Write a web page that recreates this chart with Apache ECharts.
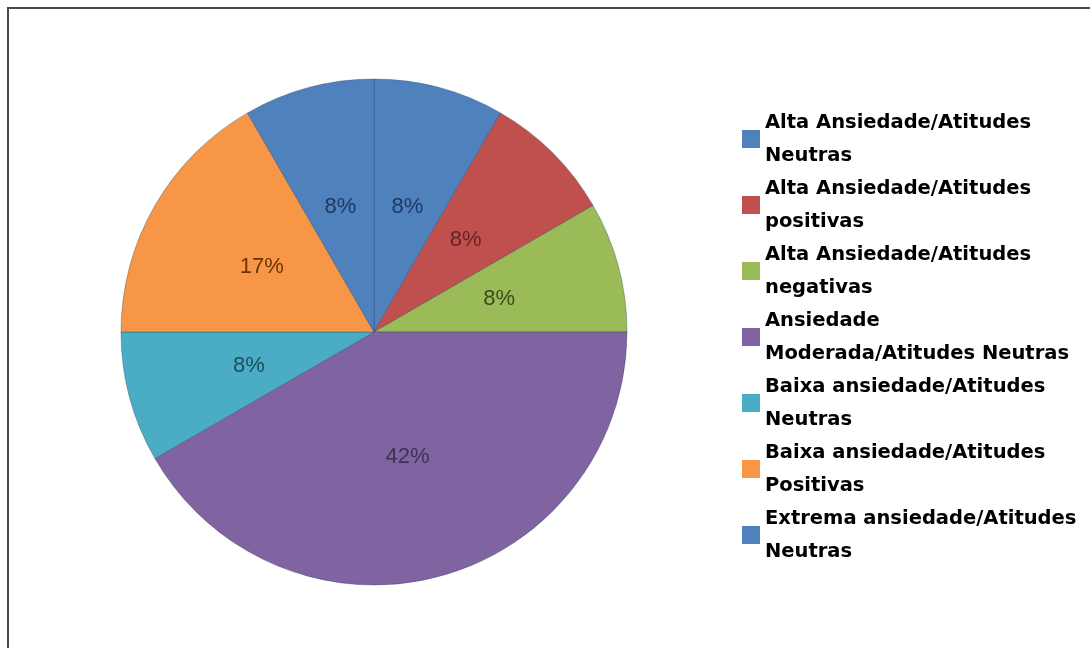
<!DOCTYPE html>
<html>
<head>
<meta charset="utf-8">
<script src="https://cdn.jsdelivr.net/npm/echarts@6/dist/echarts.min.js"></script>
<style>
html, body { margin: 0; padding: 0; background: #fff; }
#grafico { width: 1090px; height: 648px; }
</style>
</head>
<body>
<div id="grafico"></div>
<script>
// categorias e valores (contagens, 12 no total)
var categorias = [
    'Alta Ansiedade/Atitudes Neutras',
    'Alta Ansiedade/Atitudes positivas',
    'Alta Ansiedade/Atitudes negativas',
    'Ansiedade Moderada/Atitudes Neutras',
    'Baixa ansiedade/Atitudes Neutras',
    'Baixa ansiedade/Atitudes Positivas',
    'Extrema ansiedade/Atitudes Neutras'
];
var valores = [1, 1, 1, 5, 1, 2, 1];
var legendas = [
    'Alta Ansiedade/Atitudes\nNeutras',
    'Alta Ansiedade/Atitudes\npositivas',
    'Alta Ansiedade/Atitudes\nnegativas',
    'Ansiedade\nModerada/Atitudes Neutras',
    'Baixa ansiedade/Atitudes\nNeutras',
    'Baixa ansiedade/Atitudes\nPositivas',
    'Extrema ansiedade/Atitudes\nNeutras'
];

var cores = ['#4F81BD', '#C0504D', '#9BBB59', '#8064A2', '#4BACC6', '#F79646', '#4F81BD'];
var coresTexto = ['#1F3864', '#632523', '#3B4A1E', '#3F3151', '#1B4E5C', '#6B3405', '#1F3864'];

var dados = categorias.map(function (nome, i) {
    return {
        name: nome,
        value: valores[i],
        label: { color: coresTexto[i] }
    };
});

var option = {
    animation: false,
    color: cores,
    graphic: [{
        type: 'rect',
        silent: true,
        shape: { x: 8, y: 8, width: 1200, height: 800 },
        style: { fill: 'none', stroke: '#4a4a4a', lineWidth: 2 }
    }],
    legend: {
        orient: 'vertical',
        left: 742,
        top: 106,
        padding: 0,
        itemWidth: 18,
        itemHeight: 18,
        itemGap: 0,
        icon: 'rect',
        selectedMode: false,
        itemStyle: { borderWidth: 0 },
        data: categorias,
        formatter: function (nome) {
            return legendas[categorias.indexOf(nome)];
        },
        textStyle: {
            fontFamily: 'DejaVu Sans',
            fontWeight: 'bold',
            fontSize: 19.5,
            lineHeight: 33,
            color: '#000'
        }
    },
    series: [{
        type: 'pie',
        center: [374, 332],
        radius: 253,
        startAngle: 90,
        clockwise: true,
        silent: true,
        itemStyle: {
            borderColor: 'rgba(40,60,90,0.35)',
            borderWidth: 1
        },
        label: {
            position: 'inside',
            fontFamily: 'Liberation Sans',
            fontSize: 22,
            formatter: function (p) {
                return Math.round(p.percent) + '%';
            }
        },
        labelLine: { show: false },
        data: dados
    }]
};

var grafico = echarts.init(document.getElementById('grafico'));
grafico.setOption(option);
</script>
</body>
</html>
